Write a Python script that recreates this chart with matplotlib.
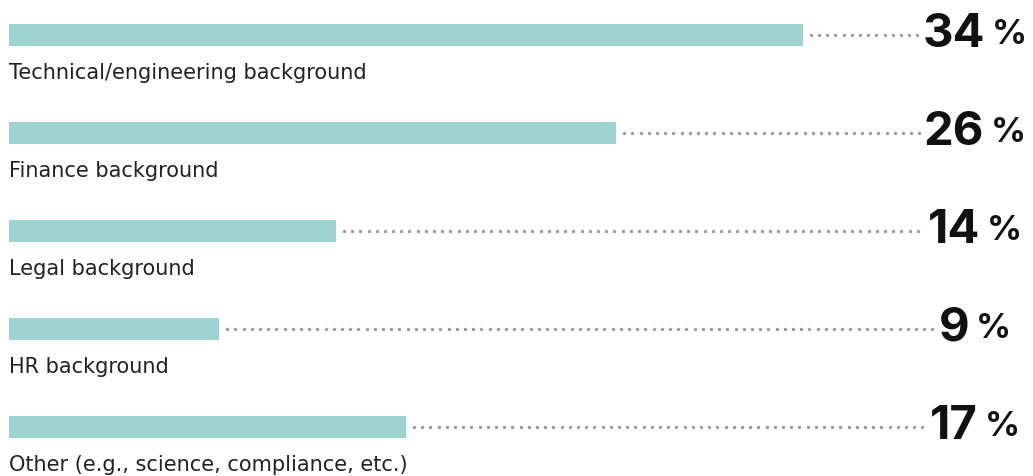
import numpy as np
import matplotlib.pyplot as plt
from matplotlib.transforms import offset_copy

categories = [
    "Technical/engineering background",
    "Finance background",
    "Legal background",
    "HR background",
    "Other (e.g., science, compliance, etc.)",
]
shares = [34, 26, 14, 9, 17]

BAR_COLOR = "#9dd4d2"
DOT_COLOR = "#9a9a9a"
PX_PER_UNIT = 23.35  # pixels per percentage point

fig = plt.figure(figsize=(10.33, 4.77), dpi=100)
ax = fig.add_axes([0, 0, 1, 1])
ax.axis("off")
ax.set_xlim(-9 / PX_PER_UNIT, (1033 - 9) / PX_PER_UNIT)
ax.set_ylim(4.5, -36 / 98)

y = np.arange(len(categories))
bar_h = 22 / 98
ax.barh(y, shares, height=bar_h, color=BAR_COLOR, align="center")

num_center = 975 / PX_PER_UNIT - 9 / PX_PER_UNIT
gap = 7 / PX_PER_UNIT
num_texts, pct_texts = [], []
for i, (cat, v) in enumerate(zip(categories, shares)):
    ax.text(0.0, i + 0.378, cat, ha="left", va="center", fontsize=15,
            family="DejaVu Sans", color="#222222")
    t = ax.text(num_center, i + bar_h / 2, str(v), ha="right", va="baseline",
                fontsize=34, family="Inter", weight="bold", color="#111111")
    # the percent sign sits a little above the digit baseline
    p = ax.text(num_center + gap, i + bar_h / 2, "%", ha="left", va="baseline",
                fontsize=25, family="Inter", weight="bold", color="#111111",
                transform=offset_copy(ax.transData, fig=fig, x=0, y=2.5, units="dots"))
    num_texts.append(t)
    pct_texts.append(p)

# center each number+percent group, then run the dotted leader up to it
fig.canvas.draw()
r = fig.canvas.get_renderer()
for i, (t, p, v) in enumerate(zip(num_texts, pct_texts, shares)):
    b1 = t.get_window_extent(r)
    b2 = p.get_window_extent(r)
    target = ax.transData.transform((num_center, 0))[0]
    shift = (target - (b1.x0 + b2.x1) / 2) / PX_PER_UNIT
    t.set_x(t.get_position()[0] + shift)
    p.set_x(p.get_position()[0] + shift)
    left = num_center + shift - b1.width / PX_PER_UNIT
    x0 = v + 8 / PX_PER_UNIT
    x1 = left - 4 / PX_PER_UNIT
    xs = np.arange(x0, x1, 8.2 / PX_PER_UNIT)
    ax.plot(xs, np.full_like(xs, i), linestyle="none", marker="o",
            markersize=2.4, color=DOT_COLOR, markeredgewidth=0)

fig.savefig("out.png", dpi=100, facecolor="white")
